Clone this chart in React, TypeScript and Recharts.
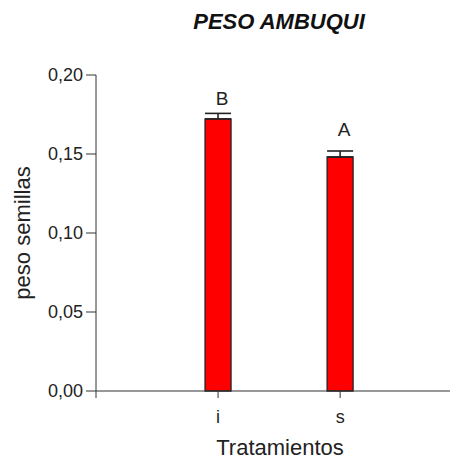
import React from "react";
import {
  Bar,
  ComposedChart,
  ErrorBar,
  Scatter,
  XAxis,
  YAxis,
} from "recharts";

const treatments = ["i", "s"];
const means = [0.1722, 0.1481];
const errors = [0.0035, 0.0038];
const letters = ["B", "A"];
const letterHeights = [0.1854, 0.1658];
const yTicks = [0, 0.05, 0.1, 0.15, 0.2];

const data = treatments.map((t, i) => ({
  x: i + 1,
  name: t,
  mean: means[i],
  err: [0, errors[i]],
  letter: letters[i],
  letterY: letterHeights[i],
}));

const fmt = (v: number) => v.toFixed(2).replace(".", ",");
const axisColor = "#333";
const font = "'Liberation Sans', Arial, sans-serif";

export default function App() {
  return (
    <div style={{ position: "absolute", left: 0, top: 0, width: 457, height: 459, background: "#fff", fontFamily: font }}>
      <div
        style={{
          position: "absolute",
          top: 9,
          left: 0,
          width: 457,
          paddingLeft: 101,
          boxSizing: "border-box",
          textAlign: "center",
          fontSize: 22,
          fontWeight: "bold",
          fontStyle: "italic",
          color: "#111",
        }}
      >
        PESO AMBUQUI
      </div>
      <ComposedChart
        width={457}
        height={459}
        data={data}
        margin={{ top: 75, right: 7, bottom: 0, left: 0 }}
      >
        <XAxis
          dataKey="x"
          type="number"
          domain={[0, 2.9]}
          ticks={[0, 1, 2]}
          tickFormatter={(v: number) => (v === 0 ? "" : treatments[v - 1])}
          height={68}
          tickSize={7}
          tickMargin={12}
          stroke={axisColor}
          tick={{ fill: "#222", fontSize: 18, fontFamily: font }}
          label={{
            value: "Tratamientos",
            position: "insideBottom",
            offset: 4,
            dx: 7,
            style: { fill: "#222", fontSize: 22, fontFamily: font },
          }}
        />
        <YAxis
          type="number"
          domain={[0, 0.2]}
          ticks={yTicks}
          tickFormatter={fmt}
          width={96}
          tickSize={10}
          tickMargin={3}
          stroke={axisColor}
          tick={{ fill: "#222", fontSize: 18, fontFamily: font }}
          label={{
            value: "peso semillas",
            angle: -90,
            position: "insideLeft",
            offset: 22,
            style: { textAnchor: "middle", fill: "#222", fontSize: 22, fontFamily: font },
          }}
        />
        <Bar
          dataKey="mean"
          barSize={26}
          fill="#ff0000"
          stroke="#222"
          strokeWidth={1.3}
          isAnimationActive={false}
        >
          <ErrorBar dataKey="err" width={13} stroke="#222" strokeWidth={1.6} direction="y" />
        </Bar>
        <Scatter
          dataKey="letterY"
          isAnimationActive={false}
          shape={(p: any) => (
            <text
              x={p.cx + 4}
              y={p.cy}
              dy="0.35em"
              textAnchor="middle"
              fontSize={19}
              fontFamily={font}
              fill="#222"
            >
              {p.payload.letter}
            </text>
          )}
        />
      </ComposedChart>
    </div>
  );
}
